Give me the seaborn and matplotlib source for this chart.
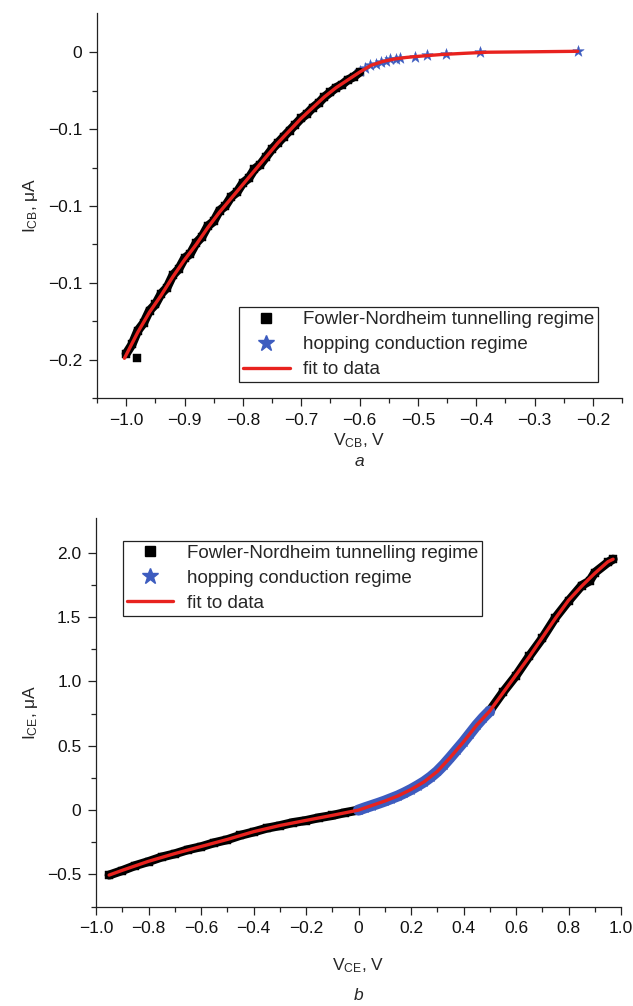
import numpy as np
import pandas as pd
import matplotlib
matplotlib.use("Agg")
import matplotlib.pyplot as plt
import seaborn as sns
from matplotlib.lines import Line2D
from matplotlib.ticker import FixedLocator, FixedFormatter

# ---------------- data: panel a ----------------
fn_a_x = [-1.00, -0.99, -0.98, -0.97, -0.96, -0.95, -0.94, -0.93, -0.92, -0.91,
          -0.90, -0.89, -0.88, -0.87, -0.86, -0.85, -0.84, -0.83, -0.82, -0.81,
          -0.80, -0.79, -0.78, -0.77, -0.76, -0.75, -0.74, -0.73, -0.72, -0.71,
          -0.70, -0.69, -0.68, -0.67, -0.66, -0.65, -0.64, -0.63, -0.62, -0.61,
          -0.60, -0.981]
fn_a_y = [-0.196, -0.190, -0.181, -0.176, -0.168, -0.164, -0.157, -0.153, -0.145, -0.141,
          -0.134, -0.131, -0.124, -0.120, -0.113, -0.110, -0.103, -0.100, -0.094, -0.091,
          -0.085, -0.082, -0.076, -0.073, -0.068, -0.063, -0.059, -0.055, -0.051, -0.047,
          -0.043, -0.040, -0.036, -0.033, -0.029, -0.026, -0.023, -0.021, -0.018, -0.016,
          -0.013, -0.199]
hop_a_x = [-0.600, -0.591, -0.582, -0.572, -0.564, -0.555, -0.547, -0.538, -0.531,
           -0.505, -0.484, -0.452, -0.394, -0.226]
hop_a_y = [-0.0123, -0.0101, -0.0086, -0.0075, -0.0065, -0.0056, -0.0047, -0.0043, -0.0039,
           -0.0030, -0.0021, -0.0010, 0.0000, 0.0006]
fit_a_x = [-1.003, -0.98, -0.96, -0.94, -0.92, -0.90, -0.88, -0.86, -0.84, -0.82, -0.80,
           -0.78, -0.76, -0.74, -0.72, -0.70, -0.68, -0.66, -0.64, -0.62, -0.60,
           -0.58, -0.56, -0.54, -0.52, -0.50, -0.46, -0.42, -0.38, -0.30, -0.226]
fit_a_y = [-0.199, -0.182, -0.169, -0.158, -0.146, -0.135, -0.125, -0.114, -0.104, -0.095, -0.086,
           -0.077, -0.068, -0.059, -0.051, -0.043, -0.036, -0.029, -0.023, -0.018, -0.013,
           -0.0085, -0.0060, -0.0044, -0.0034, -0.0027, -0.0015, -0.0007, 0.0000, 0.0003, 0.0006]

# ---------------- data: panel b ----------------
fn_b1_x = [-0.95, -0.90, -0.85, -0.80, -0.75, -0.70, -0.65, -0.60, -0.55, -0.50,
           -0.45, -0.40, -0.35, -0.30, -0.25, -0.20, -0.15, -0.10, -0.05, 0.00]
fn_b1_y = [-0.505, -0.470, -0.431, -0.400, -0.365, -0.340, -0.308, -0.285, -0.254, -0.230,
           -0.196, -0.170, -0.141, -0.121, -0.097, -0.081, -0.059, -0.042, -0.019, 0.000]
hop_b_x = [0.00, 0.025, 0.05, 0.075, 0.10, 0.125, 0.15, 0.175, 0.20, 0.225, 0.25,
           0.275, 0.30, 0.325, 0.35, 0.375, 0.40, 0.425, 0.45, 0.475, 0.50]
hop_b_y = [0.00, 0.018, 0.035, 0.052, 0.070, 0.090, 0.110, 0.134, 0.160, 0.189, 0.220,
           0.257, 0.300, 0.352, 0.410, 0.470, 0.530, 0.595, 0.660, 0.718, 0.770]
fn_b2_x = [0.50, 0.55, 0.60, 0.65, 0.70, 0.75, 0.80, 0.85, 0.88, 0.90, 0.95, 0.97]
fn_b2_y = [0.772, 0.915, 1.045, 1.195, 1.335, 1.495, 1.625, 1.745, 1.78, 1.845, 1.925, 1.950]
fit_b_x = [-0.95, -0.90, -0.80, -0.70, -0.60, -0.50, -0.40, -0.30, -0.20, -0.10, 0.00,
           0.05, 0.10, 0.15, 0.20, 0.25, 0.30, 0.35, 0.40, 0.45, 0.50,
           0.55, 0.60, 0.65, 0.70, 0.75, 0.80, 0.85, 0.90, 0.95, 0.97]
fit_b_y = [-0.505, -0.468, -0.398, -0.338, -0.283, -0.228, -0.168, -0.120, -0.080, -0.041, 0.000,
           0.035, 0.070, 0.110, 0.160, 0.220, 0.300, 0.410, 0.530, 0.660, 0.770,
           0.910, 1.050, 1.190, 1.340, 1.490, 1.630, 1.740, 1.840, 1.930, 1.950]

legend_labels = ["Fowler-Nordheim tunnelling regime", "hopping conduction regime", "fit to data"]

a_xticks = [-1.0, -0.9, -0.8, -0.7, -0.6, -0.5, -0.4, -0.3, -0.2]
a_xticklabels = ["\u22121.0", "\u22120.9", "\u22120.8", "\u22120.7", "\u22120.6",
                 "\u22120.5", "\u22120.4", "\u22120.3", "\u22120.2"]
a_yticks = [0.0, -0.05, -0.10, -0.15, -0.20]
a_yticklabels = ["0", "\u22120.1", "\u22120.1", "\u22120.1", "\u22120.2"]
b_xticks = [-1.0, -0.8, -0.6, -0.4, -0.2, 0.0, 0.2, 0.4, 0.6, 0.8, 1.0]
b_xticklabels = ["\u22121.0", "\u22120.8", "\u22120.6", "\u22120.4", "\u22120.2", "0",
                 "0.2", "0.4", "0.6", "0.8", "1.0"]
b_yticks = [-0.5, 0.0, 0.5, 1.0, 1.5, 2.0]
b_yticklabels = ["\u22120.5", "0", "0.5", "1.0", "1.5", "2.0"]

# ---------------- style ----------------
sns.set_theme(style="ticks")
plt.rcParams["font.family"] = ["Liberation Sans", "DejaVu Sans"]
plt.rcParams["mathtext.fontset"] = "custom"
plt.rcParams["mathtext.rm"] = "Liberation Sans"
plt.rcParams["mathtext.it"] = "Liberation Sans:italic"
plt.rcParams["axes.unicode_minus"] = True

BLACK = "#000000"
BLUE = "#3d5cbf"
RED = "#e8221e"
AX = "#222222"
FS = 12.5
LFS = 13.5

fig = plt.figure(figsize=(6.33, 10.06), dpi=100)
ax1 = fig.add_axes([97 / 633, 1 - 398.3 / 1006, 525 / 633, 385.3 / 1006])
ax2 = fig.add_axes([96 / 633, 1 - 906.6 / 1006, 525 / 633, 388.6 / 1006])


def style_axis(ax):
    for s in ["top", "right"]:
        ax.spines[s].set_visible(False)
    for s in ["left", "bottom"]:
        ax.spines[s].set_color(AX)
        ax.spines[s].set_linewidth(0.9)
    ax.tick_params(which="major", direction="out", length=5.5, width=0.9, color=AX,
                   labelsize=FS, labelcolor="#111111", pad=5)
    ax.tick_params(which="minor", direction="out", length=3.5, width=0.9, color=AX)
    ax.grid(False)


# ---------------- panel a ----------------
dfa = pd.DataFrame({"x": fn_a_x, "y": fn_a_y})
sns.lineplot(x=fn_a_x[:-1], y=fn_a_y[:-1], ax=ax1, color=BLACK, lw=6.5, sort=False)
sns.scatterplot(data=dfa, x="x", y="y", ax=ax1, marker="s", s=30, color=BLACK,
                edgecolor=BLACK, linewidth=0.3)
sns.scatterplot(x=hop_a_x, y=hop_a_y, ax=ax1, marker="*", s=75, color=BLUE,
                edgecolor=BLUE, linewidth=0.3)
sns.lineplot(x=fit_a_x, y=fit_a_y, ax=ax1, color=RED, lw=2.4, sort=False)

ax1.set_xlim(-1.05, -0.15)
ax1.set_ylim(-0.225, 0.0255)
ax1.xaxis.set_major_locator(FixedLocator(a_xticks))
ax1.xaxis.set_major_formatter(FixedFormatter(a_xticklabels))
ax1.xaxis.set_minor_locator(FixedLocator([-1.05, -0.95, -0.85, -0.75, -0.65, -0.55,
                                          -0.45, -0.35, -0.25, -0.15]))
ax1.yaxis.set_major_locator(FixedLocator(a_yticks))
ax1.yaxis.set_major_formatter(FixedFormatter(a_yticklabels))
ax1.yaxis.set_minor_locator(FixedLocator([-0.025, -0.075, -0.125, -0.175, -0.225]))
style_axis(ax1)
ax1.set_xlabel(r"$\mathrm{V_{CB}}$, V", fontsize=FS, va="center")
ax1.xaxis.set_label_coords(0.5, (398.3 - 441) / 385.3)
ax1.set_ylabel(r"$\mathrm{I_{CB}}$, " + "\u03bcA", fontsize=FS, va="center")
ax1.yaxis.set_label_coords((30 - 97) / 525, 0.5)

# ---------------- panel b ----------------
sns.lineplot(x=fn_b1_x, y=fn_b1_y, ax=ax2, color=BLACK, lw=6.5, sort=False)
sns.lineplot(x=fn_b2_x, y=fn_b2_y, ax=ax2, color=BLACK, lw=6.5, sort=False)
sns.scatterplot(x=fn_b1_x + fn_b2_x, y=fn_b1_y + fn_b2_y, ax=ax2, marker="s", s=30,
                color=BLACK, edgecolor=BLACK, linewidth=0.3)
sns.lineplot(x=hop_b_x, y=hop_b_y, ax=ax2, color=BLUE, lw=8, sort=False)
sns.scatterplot(x=hop_b_x, y=hop_b_y, ax=ax2, marker="*", s=55, color=BLUE,
                edgecolor=BLUE, linewidth=0.3)
sns.lineplot(x=fit_b_x, y=fit_b_y, ax=ax2, color=RED, lw=2.4, sort=False)

ax2.set_xlim(-1.0, 1.0)
ax2.set_ylim(-0.75, 2.27)
ax2.xaxis.set_major_locator(FixedLocator(b_xticks))
ax2.xaxis.set_major_formatter(FixedFormatter(b_xticklabels))
ax2.xaxis.set_minor_locator(FixedLocator([-0.9, -0.7, -0.5, -0.3, -0.1, 0.1, 0.3, 0.5, 0.7, 0.9]))
ax2.yaxis.set_major_locator(FixedLocator(b_yticks))
ax2.yaxis.set_major_formatter(FixedFormatter(b_yticklabels))
ax2.yaxis.set_minor_locator(FixedLocator([-0.75, -0.25, 0.25, 0.75, 1.25, 1.75]))
style_axis(ax2)
ax2.set_xlabel(r"$\mathrm{V_{CE}}$, V", fontsize=FS, va="center")
ax2.xaxis.set_label_coords(0.5, (906.6 - 966) / 388.6)
ax2.set_ylabel(r"$\mathrm{I_{CE}}$, " + "\u03bcA", fontsize=FS, va="center")
ax2.yaxis.set_label_coords((30 - 96) / 525, 0.5)

# ---------------- legends ----------------
def make_handles():
    return [
        Line2D([], [], ls="none", marker="s", ms=7.5, color=BLACK),
        Line2D([], [], ls="none", marker="*", ms=12, color=BLUE),
        Line2D([], [], color=RED, lw=2.4),
    ]


leg_kw = dict(fontsize=LFS, frameon=True, fancybox=False, framealpha=1,
              edgecolor="#222222", handlelength=2.5, handletextpad=0.7,
              labelspacing=0.42, borderpad=0.2, borderaxespad=0.0)
l1 = ax1.legend(make_handles(), legend_labels, loc="lower right",
                bbox_to_anchor=(0.954, 0.042), **leg_kw)
l1.get_frame().set_linewidth(0.9)
l2 = ax2.legend(make_handles(), legend_labels, loc="upper left",
                bbox_to_anchor=(0.051, 0.941), **leg_kw)
l2.get_frame().set_linewidth(0.9)

# ---------------- captions ----------------
fig.text(359.5 / 633, 1 - 461 / 1006, "a", ha="center", va="center", fontsize=FS,
         style="italic")
fig.text(358.5 / 633, 1 - 996 / 1006, "b", ha="center", va="center", fontsize=FS,
         style="italic")

fig.savefig("out.png", dpi=100)
